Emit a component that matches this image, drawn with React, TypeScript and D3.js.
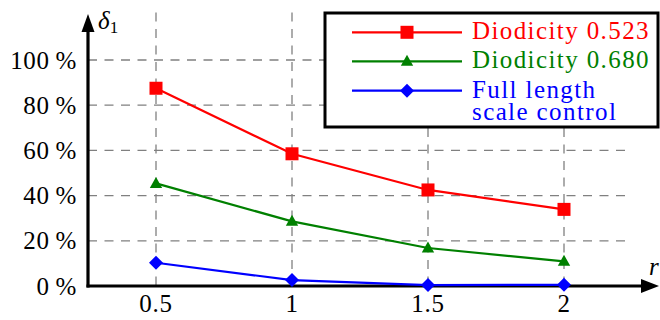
import React from "react";
import * as d3 from "d3";

const xValues = [0.5, 1, 1.5, 2];
const xTickLabels = ["0.5", "1", "1.5", "2"];
const yTicks = [0, 20, 40, 60, 80, 100];
const yTickLabels = ["0", "20", "40", "60", "80", "100"];

const seriesNames = ["Diodicity 0.523", "Diodicity 0.680", "Full length|scale control"];
const seriesColors = ["#ff0000", "#008000", "#0000ff"];
const seriesMarkers = ["square", "triangle", "diamond"];
const redValues = [87.5, 58.5, 42.5, 33.9];
const greenValues = [45.4, 28.6, 16.8, 10.9];
const blueValues = [10.3, 2.6, 0.4, 0.5];
const seriesValues = [redValues, greenValues, blueValues];

const W = 660;
const H = 320;
const FONT = '"Liberation Serif", "DejaVu Serif", "Times New Roman", Times, serif';

function Marker({ type, x, y, color }: { type: string; x: number; y: number; color: string }) {
  if (type === "square") {
    return <rect x={x - 6.5} y={y - 6.5} width={13} height={13} fill={color} />;
  }
  if (type === "triangle") {
    const p = d3.path();
    p.moveTo(x, y - 6.5);
    p.lineTo(x + 6.2, y + 4.5);
    p.lineTo(x - 6.2, y + 4.5);
    p.closePath();
    return <path d={p.toString()} fill={color} />;
  }
  const p = d3.path();
  p.moveTo(x, y - 7);
  p.lineTo(x + 7, y);
  p.lineTo(x, y + 7);
  p.lineTo(x - 7, y);
  p.closePath();
  return <path d={p.toString()} fill={color} />;
}

export default function App() {
  const x = d3.scaleLinear().domain([0.25, 2.25]).range([88, 632]);
  const y = d3.scaleLinear().domain([0, 100]).range([286, 60]);
  const yTop = y(121);
  const line = d3
    .line<number>()
    .x((_, i) => x(xValues[i]))
    .y((v) => y(v));

  const legendX = 325;
  const legendY = 13;
  const legendRows = [32.3, 61.3, 90.7];
  const legendText = [38.5, 67.5, 97.5, 119.5];
  const fs = 25;
  const ls = 0.7;
  const lls = 1.4;
  const ts: React.CSSProperties = { fontFamily: FONT };

  return (
    <div style={{ position: "absolute", left: 0, top: 0, fontFamily: FONT }}>
      <svg width={W} height={H} style={{ display: "block", background: "#fff", fontFamily: FONT }}>
        {/* grid */}
        {yTicks.filter((t) => t > 0).map((t) => (
          <line key={"gy" + t} x1={x(0.25)} x2={x(2.25)} y1={y(t)} y2={y(t)} stroke="#808080" strokeWidth={1.3} strokeDasharray="9 7.5" />
        ))}
        {xValues.map((v) => (
          <line key={"gx" + v} x1={x(v)} x2={x(v)} y1={yTop} y2={y(0)} stroke="#808080" strokeWidth={1.3} strokeDasharray="9 7.5" />
        ))}

        {/* axes */}
        <line x1={86.5} x2={645} y1={y(0)} y2={y(0)} stroke="#000" strokeWidth={3.2} />
        <path d={`M659,${y(0)} L641,${y(0) - 7} L641,${y(0) + 7} Z`} fill="#000" />
        <line x1={x(0.25)} x2={x(0.25)} y1={y(0) + 1.6} y2={30} stroke="#000" strokeWidth={3.2} />
        <path d={`M${x(0.25)},14 L${x(0.25) - 6.5},32 L${x(0.25) + 6.5},32 Z`} fill="#000" />

        {/* tick labels */}
        {yTicks.map((t, i) => (
          <text key={"yl" + t} x={77} y={y(t) + 8.5} textAnchor="end" fontSize={fs} letterSpacing={ls} fill="#000" style={ts}>
            {yTickLabels[i] + "\u2009%"}
          </text>
        ))}
        {xValues.map((v, i) => (
          <text key={"xl" + v} x={x(v)} y={312} textAnchor="middle" fontSize={fs} letterSpacing={ls} fill="#000" style={ts}>
            {xTickLabels[i]}
          </text>
        ))}

        {/* axis labels */}
        <text x={98} y={29} fontSize={fs} fontStyle="italic" fill="#000" style={ts}>
          δ
          <tspan fontSize={17} fontStyle="normal" dy={4}>1</tspan>
        </text>
        <text x={649} y={275} fontSize={fs} fontStyle="italic" fill="#000" style={ts}>r</text>

        {/* series */}
        {seriesValues.map((vals, si) => (
          <g key={"s" + si}>
            <path d={line(vals) || ""} fill="none" stroke={seriesColors[si]} strokeWidth={2.2} />
            {vals.map((v, i) => (
              <Marker key={i} type={seriesMarkers[si]} x={x(xValues[i])} y={y(v)} color={seriesColors[si]} />
            ))}
          </g>
        ))}

        {/* legend */}
        <rect x={legendX} y={legendY} width={333} height={114} fill="#fff" stroke="#000" strokeWidth={3} />
        {seriesNames.map((name, si) => (
          <g key={"lg" + si}>
            <line x1={352} x2={462} y1={legendRows[si]} y2={legendRows[si]} stroke={seriesColors[si]} strokeWidth={2.2} />
            <Marker type={seriesMarkers[si]} x={407} y={legendRows[si]} color={seriesColors[si]} />
            {name.split("|").map((part, k) => (
              <text key={k} x={472} y={legendText[si + k]} fontSize={fs} letterSpacing={lls} fill={seriesColors[si]} style={ts}>
                {part}
              </text>
            ))}
          </g>
        ))}
      </svg>
    </div>
  );
}
